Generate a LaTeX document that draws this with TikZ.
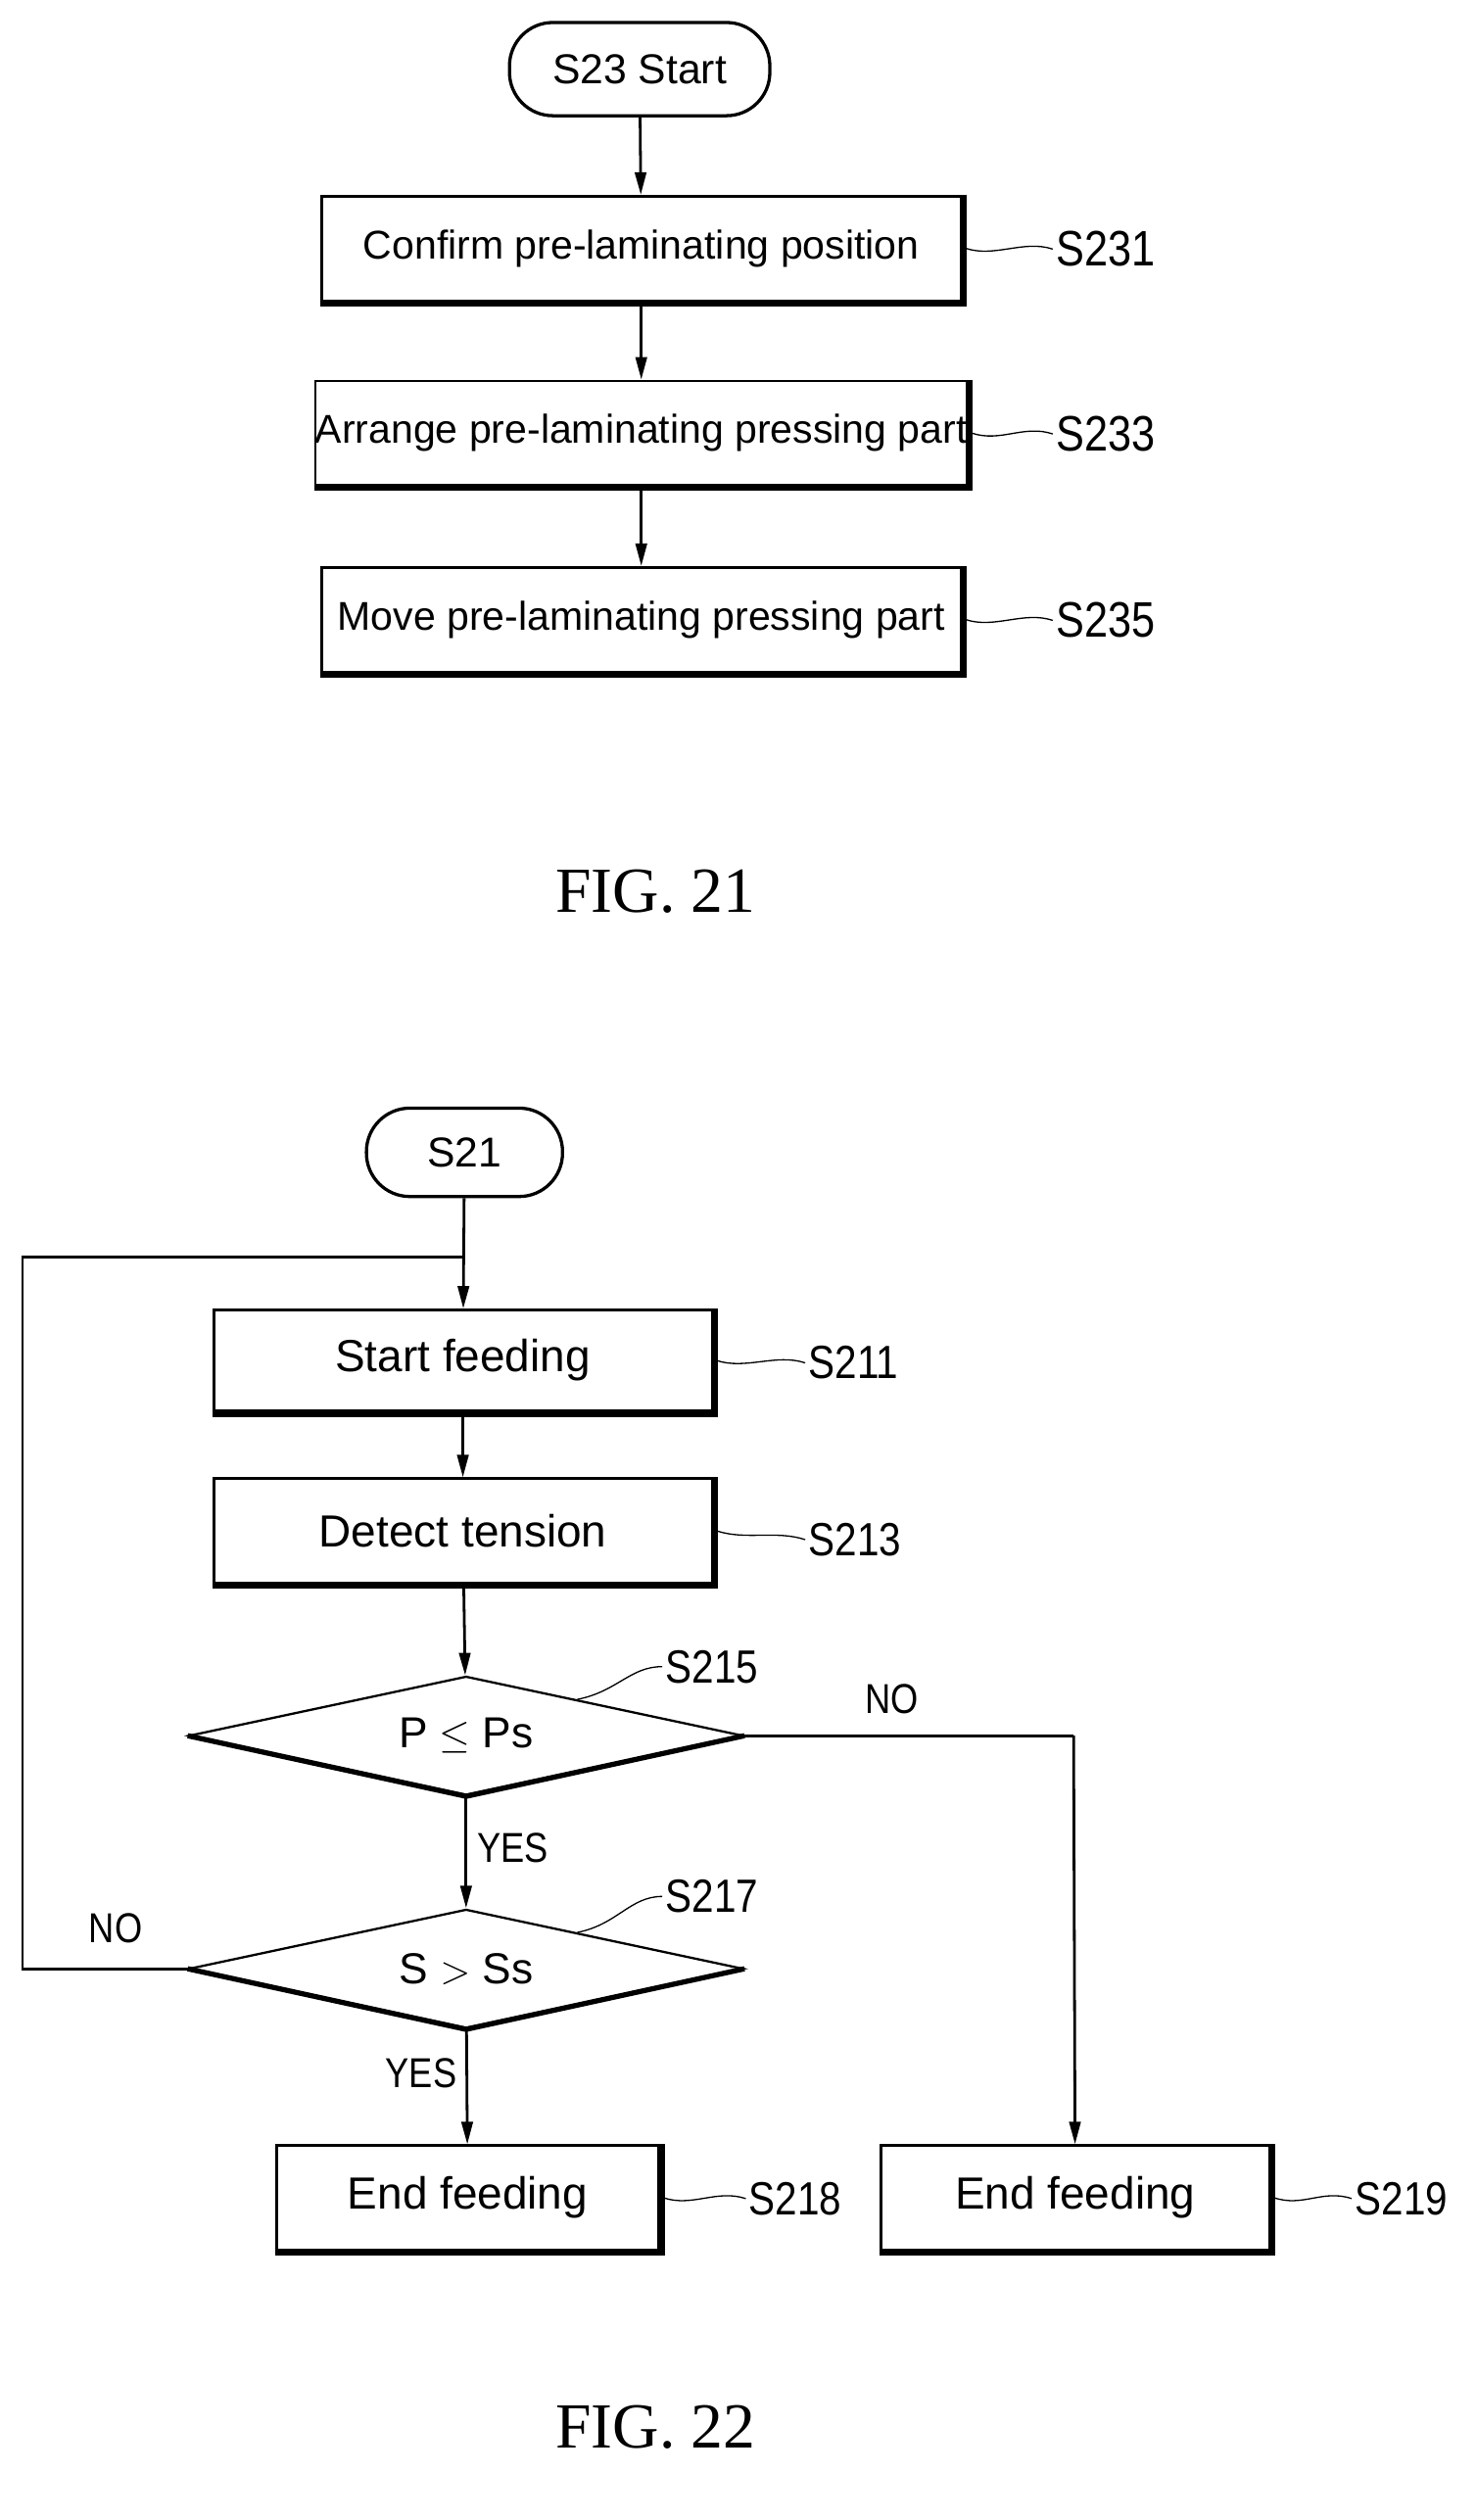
\documentclass[tikz,border=0pt]{standalone}
\usepackage{fontspec}
\setmainfont{Liberation Serif}
\setsansfont{Liberation Sans}
\usetikzlibrary{shapes.geometric,calc,arrows.meta}
\begin{document}
\begin{tikzpicture}[x=1pt,y=-1pt,
  box/.style={draw,line width=1.6pt,font=\sffamily\fontsize{25}{25}\selectfont,inner sep=0pt},
  fbox/.style={box,font=\sffamily\fontsize{28}{28}\selectfont},
  term/.style={draw,line width=2pt,rounded corners=27pt,font=\sffamily\fontsize{26}{26}\selectfont,inner sep=0pt},
  dia/.style={draw,line width=1.4pt,diamond,shape aspect=4.66,minimum width=345pt,minimum height=74pt,inner sep=0pt,font=\sffamily\fontsize{27}{27}\selectfont},
  lab/.style={font=\sffamily\fontsize{31}{31}\selectfont,xscale=0.85,transform shape,inner sep=0pt,anchor=west},
  flab/.style={lab,font=\sffamily\fontsize{29}{29}\selectfont},
  slab/.style={font=\sffamily\fontsize{26}{26}\selectfont,xscale=0.85,transform shape,inner sep=0pt},
  arr/.style={line width=1.7pt,-{Triangle[length=14pt,width=7pt]}},
  ln/.style={line width=1.7pt},
  lead/.style={line width=0.8pt},
  fig/.style={font=\rmfamily\fontsize{40}{40}\selectfont}]
\useasboundingbox (0,0) rectangle (918,1568);
% FIG 21
\node[term,minimum width=162pt,minimum height=58pt] (t1) at (398,43) {S23 Start};
\node[box,minimum width=398pt,minimum height=65pt] (b1) at (399,154.5) {Confirm pre-laminating position};
\node[box,minimum width=398pt,minimum height=65pt] (b2) at (399,269.5) {Arrange pre-laminating pressing part};
\node[box,minimum width=398pt,minimum height=65pt] (b3) at (399,385.5) {Move pre-laminating pressing part};
\node[lab] (l1) at (657,155) {S231};
\node[lab] (l2) at (657,270) {S233};
\node[lab] (l3) at (657,386) {S235};
\draw[arr] (t1) -- (b1);
\draw[arr] (b1) -- (b2);
\draw[arr] (b2) -- (b3);
\node[fig] (f1) at (408,555) {FIG. 21};
% FIG 22
\node[term,minimum width=122pt,minimum height=55pt] (t2) at (289,717) {S21};
\node[fbox,minimum width=310pt,minimum height=63pt] (c1) at (288,846.5) {Start feeding};
\node[fbox,minimum width=310pt,minimum height=65pt] (c2) at (288,952.5) {Detect tension};
\node[dia] (d1) at (290,1080) {P $\leq$ Ps};
\node[dia] (d2) at (290,1225) {S $>$ Ss};
\node[fbox,minimum width=238pt,minimum height=65pt] (c3) at (291,1367.5) {End feeding};
\node[fbox,minimum width=242pt,minimum height=65pt] (c4) at (669,1367.5) {End feeding};
\node[flab] (l4) at (503,848) {S211};
\node[flab] (l5) at (503,958) {S213};
\node[flab] (l6) at (414,1037) {S215};
\node[flab] (l7) at (414,1180) {S217};
\node[flab] (l8) at (466,1368) {S218};
\node[flab] (l9) at (843,1368) {S219};
\node[slab] (no1) at (555,1057) {NO};
\node[slab] (yes1) at (319,1150) {YES};
\node[slab] (no2) at (72,1200) {NO};
\node[slab] (yes2) at (262,1290) {YES};
\coordinate (k1) at (14,1225);
\coordinate (k2) at (14,782);
\coordinate (k3) at (289,782);
\coordinate (k4) at (668,1080);
\draw[arr] (t2) -- (c1);
\draw[arr] (c1) -- (c2);
\draw[arr] (c2) -- (d1);
\draw[arr] (d1) -- (d2);
\draw[arr] (d2) -- (c3);
\draw[ln] (d2.west) -- (k1) -- (k2) -- (k3);
\draw[ln] (d1.east) -- (k4);
\draw[arr] (k4) -- (c4);
\node[fig] (f2) at (408,1510) {FIG. 22};
% shadows
\foreach \n in {b1,b2,b3,c1,c2,c3,c4}
  \draw[line width=3.5pt] ([xshift=1pt]\n.north east) -- ([xshift=1pt,yshift=-1pt]\n.south east) -- ([yshift=-1pt]\n.south west);
\foreach \n in {d1,d2}
  \draw[line width=3.2pt,line join=round] (\n.west) -- (\n.south) -- (\n.east);
% leaders
\foreach \b/\l in {b1/l1,b2/l2,b3/l3,c1/l4,c2/l5,c3/l8,c4/l9}
  \draw[lead] ([xshift=2pt]\b.east) .. controls +(18,6) and +(-18,-6) .. ([xshift=-2pt]\l.west);
\draw[lead] ($(d1.north)!0.4!(d1.east)$) .. controls +(25,-5) and +(-20,0) .. ([xshift=-2pt]l6.west);
\draw[lead] ($(d2.north)!0.4!(d2.east)$) .. controls +(25,-5) and +(-20,0) .. ([xshift=-2pt]l7.west);
\end{tikzpicture}
\end{document}
